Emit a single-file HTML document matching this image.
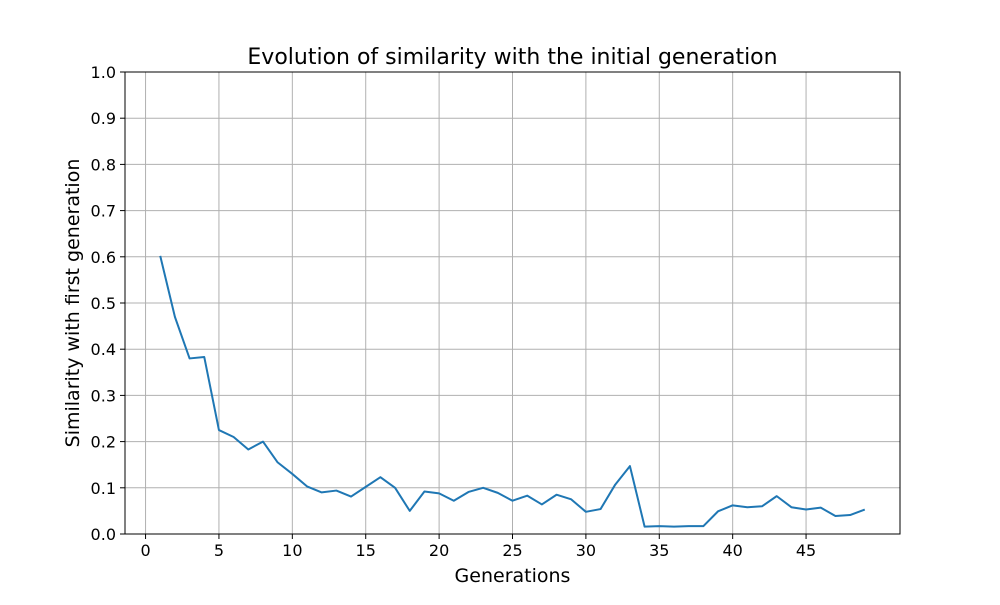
<!DOCTYPE html>
<html><head><meta charset="utf-8"><style>
body{margin:0;background:#fff;}
svg text{font-family:"DejaVu Sans","Liberation Sans",sans-serif;fill:#000;}
</style></head><body>
<svg id="chart" width="1000" height="600" xmlns="http://www.w3.org/2000/svg">
<rect width="1000" height="600" fill="#fff"/>
<g id="grid"></g>
<g id="ticks"></g>
<path id="series" fill="none" stroke="#1f77b4" stroke-width="2" stroke-linejoin="round"/>
<rect x="125" y="72" width="775" height="462" fill="none" stroke="#000" stroke-width="1"/>
<text x="512.5" y="64" font-size="22" text-anchor="middle">Evolution of similarity with the initial generation</text>
<text x="512.5" y="582" font-size="19" text-anchor="middle">Generations</text>
<text transform="translate(79,303) rotate(-90)" font-size="19" text-anchor="middle">Similarity with first generation</text>
</svg>
<script>
const generations=[1,2,3,4,5,6,7,8,9,10,11,12,13,14,15,16,17,18,19,20,21,22,23,24,25,26,27,28,29,30,31,32,33,34,35,36,37,38,39,40,41,42,43,44,45,46,47,48,49];
const similarity=[0.602,0.47,0.38,0.383,0.225,0.21,0.183,0.2,0.155,0.13,0.103,0.09,0.094,0.081,0.102,0.123,0.1,0.05,0.092,0.088,0.072,0.091,0.1,0.089,0.072,0.083,0.064,0.085,0.075,0.048,0.054,0.107,0.147,0.016,0.017,0.016,0.017,0.017,0.049,0.062,0.058,0.06,0.082,0.058,0.053,0.057,0.039,0.041,0.053];
const xTicks=[0,5,10,15,20,25,30,35,40,45];
const yTicks=[0,0.1,0.2,0.3,0.4,0.5,0.6,0.7,0.8,0.9,1.0];
const X0=125,X1=900,Y0=534,Y1=72;
const xmin=-1.4,xmax=51.4;
function xs(v){return X0+(v-xmin)/(xmax-xmin)*(X1-X0);}
function ys(v){return Y0-(v-0)/(1-0)*(Y0-Y1);}
const NS="http://www.w3.org/2000/svg";
const grid=document.getElementById('grid'),ticks=document.getElementById('ticks');
function mk(tag,attrs,parent){const e=document.createElementNS(NS,tag);for(const k in attrs)e.setAttribute(k,attrs[k]);parent.appendChild(e);return e;}
xTicks.forEach(t=>{
 const x=xs(t);
 const g=mk('line',{x1:x,x2:x,y1:Y1,y2:Y0,stroke:'#b0b0b0','stroke-width':1},grid);
 
 
 const tk=mk('line',{x1:x,x2:x,y1:Y0,y2:Y0+5,stroke:'#000'},ticks);
 
 
 const tx=mk('text',{x:x,y:Y0+22,'font-size':16,'text-anchor':'middle'},ticks);
 tx.textContent=t;
 
 
});
yTicks.forEach(t=>{
 const y=ys(t);
 const g=mk('line',{x1:X0,x2:X1,y1:y,y2:y,stroke:'#b0b0b0','stroke-width':1},grid);
 
 
 const tk=mk('line',{x1:X0-5,x2:X0,y1:y,y2:y,stroke:'#000'},ticks);
 
 
 const tx=mk('text',{x:X0-9,y:y+6,'font-size':16,'text-anchor':'end'},ticks);
 tx.textContent=t.toFixed(1);
 
 
});
document.getElementById('series').setAttribute('d',generations.map((g,i)=>(i?'L':'M')+xs(g).toFixed(2)+','+ys(similarity[i]).toFixed(2)).join(' '));
</script>
</body></html>
